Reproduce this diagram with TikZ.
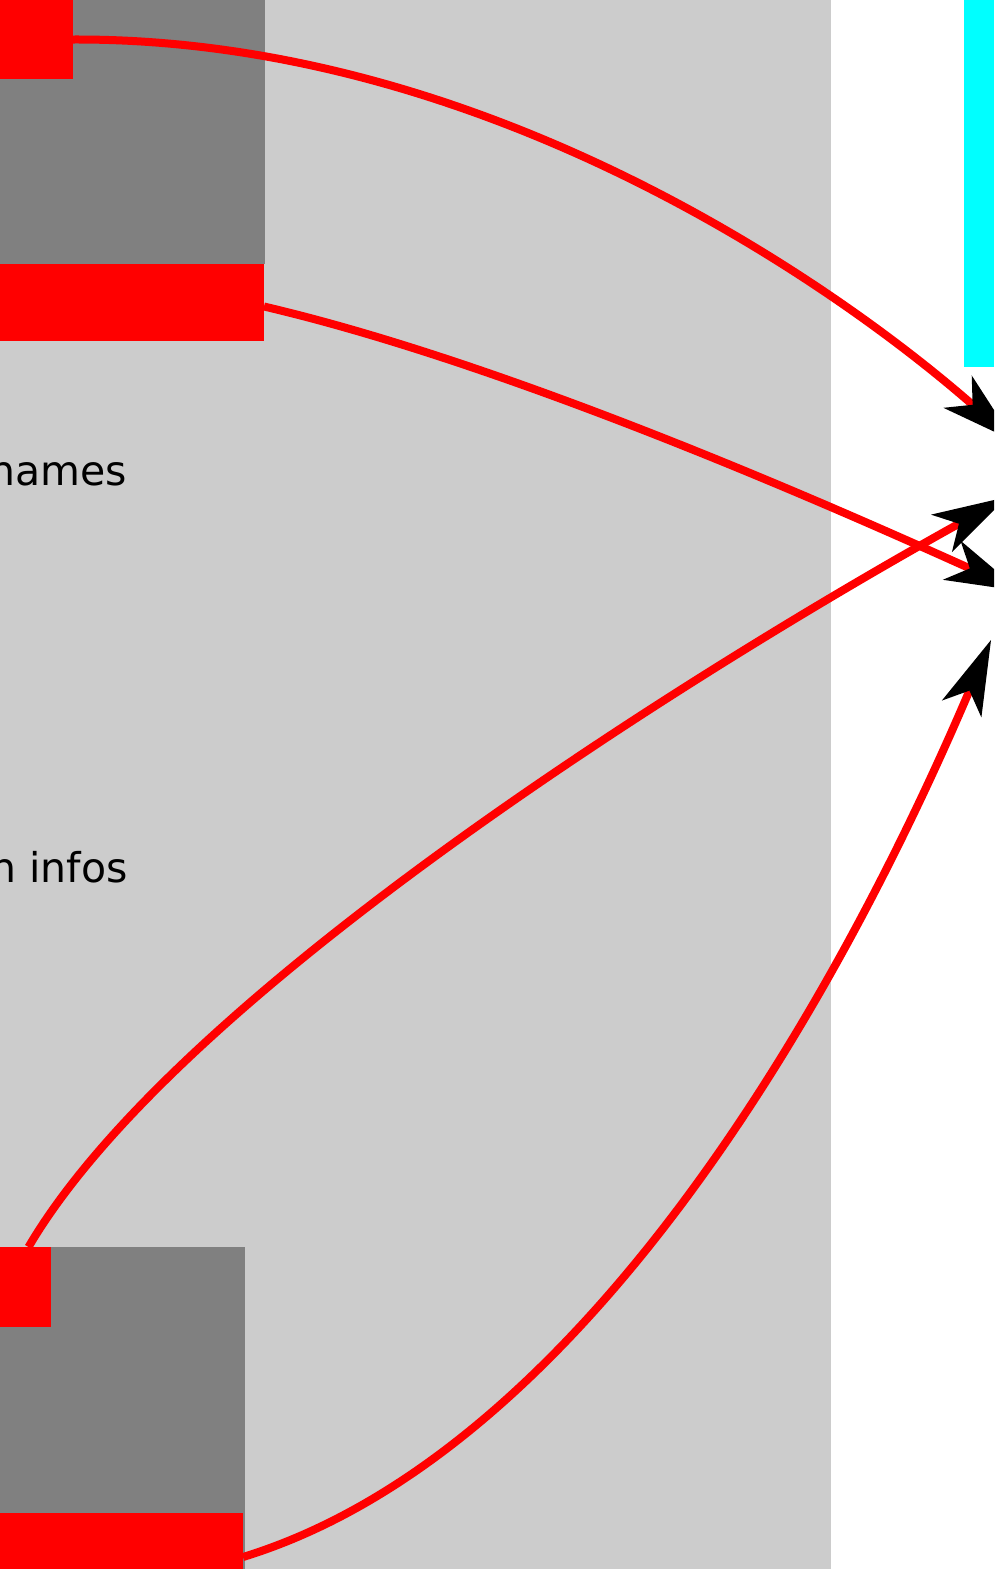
\documentclass[tikz,border=0pt]{standalone}
\usepackage{fontspec}
\setmainfont{DejaVu Sans}
\usetikzlibrary{arrows.meta}
\definecolor{bglight}{HTML}{CCCCCC}
\definecolor{boxgray}{HTML}{808080}
\definecolor{purered}{HTML}{FF0000}
\definecolor{barcyan}{HTML}{00FFFF}
\tikzset{
  blk/.style={inner sep=0pt, outer sep=0pt, draw=none, anchor=north west},
  lbl/.style={inner sep=0pt, anchor=base east, font=\fontsize{41}{49}\selectfont, text=black},
  link/.style={draw=purered, line width=8pt,
    -{Stealth[length=75pt,width=43pt,inset=20pt,line width=0pt,color=black,fill=black]}}
}
\begin{document}
\begin{tikzpicture}[x=1pt,y=-1pt]
\useasboundingbox (0,0) rectangle (994,1569);
\clip (0,0) rectangle (994,1569);
% panels
\node[blk, fill=bglight, minimum width=831pt, minimum height=1569pt] (panel) at (0,0) {};
\node[blk, fill=barcyan, minimum width=30pt, minimum height=367pt] (cyanbar) at (964,0) {};
% top group
\node[blk, fill=boxgray, minimum width=265pt, minimum height=294pt] (g1) at (0,-30) {};
\node[blk, fill=purered, minimum width=73pt, minimum height=79pt] (r1) at (0,0) {};
\node[blk, fill=purered, minimum width=264pt, minimum height=77pt] (rb1) at (0,264) {};
% bottom group
\node[blk, fill=boxgray, minimum width=245pt, minimum height=330pt] (g2) at (0,1247) {};
\node[blk, fill=purered, minimum width=51pt, minimum height=80pt] (r2) at (0,1247) {};
\node[blk, fill=purered, minimum width=243pt, minimum height=88pt] (rb2) at (0,1513) {};
% labels
\node[lbl] (names) at (127,485) {names};
\node[lbl] (infos) at (128,882) {n infos};
% targets
\coordinate (t1) at (1014,441);
\coordinate (t2) at (1020,591);
\coordinate (t3) at (1007,497);
\coordinate (t4) at (991,640);
% connectors
\draw[link] (r1.east) .. controls (480,38) and (830,280) .. (t1);
\draw[link] ([yshift=-4pt]rb1.east) .. controls (514,365) and (838,509) .. (t2);
\draw[link] ([xshift=3pt]r2.north) .. controls (180,989) and (710,662) .. (t3);
\draw[link] (rb2.east) .. controls (575,1455) and (830,1018) .. (t4);
\end{tikzpicture}
\end{document}
